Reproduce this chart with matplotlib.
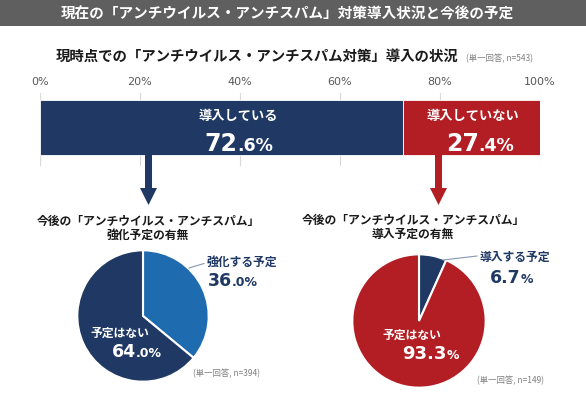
import numpy as np
import matplotlib
matplotlib.use('Agg')
import matplotlib.pyplot as plt
from matplotlib.patches import Rectangle, FancyArrow

plt.rcParams['font.family'] = ['Noto Sans CJK JP', 'DejaVu Sans']

# data
bar_labels = ['導入している', '導入していない']
bar_values = [72.6, 27.4]
bar_ticks = [0, 20, 40, 60, 80, 100]

left_pie_labels = ['強化する予定', '予定はない']
left_pie_values = [36.0, 64.0]
right_pie_labels = ['導入する予定', '予定はない']
right_pie_values = [6.7, 93.3]

NAVY = '#1F3864'
RED = '#B31E24'
BLUE = '#1F6BB0'
GREY = '#5F5F5F'
JP = ['Noto Sans CJK JP', 'DejaVu Sans']

fig = plt.figure(figsize=(5.86, 3.96), dpi=100)
W, H = 586, 396

# stacked bar of current status
axb = fig.add_axes([40 / W, (H - 166) / H, 500 / W, 73 / H])
lefts = np.concatenate([[0], np.cumsum(bar_values)[:-1]])
axb.barh(38.5, bar_values, left=lefts, height=55, color=[NAVY, RED],
         edgecolor='white', linewidth=0.6, zorder=2)
axb.set_xlim(0, 100)
axb.set_ylim(0, 73)
axb.set_xticks(bar_ticks)
axb.set_xticklabels([f'{t}%' for t in bar_ticks], family='DejaVu Sans')
axb.xaxis.tick_top()
axb.tick_params(axis='x', length=0, pad=4, labelsize=8, labelcolor='#595959')
axb.set_yticks([])
axb.grid(axis='x', color='#D9D9D9', linewidth=0.8, zorder=0)
for s in axb.spines.values():
    s.set_visible(False)

# pies
def draw_pie(rect, values, colors):
    ax = fig.add_axes(rect)
    ax.pie(values, colors=colors, startangle=90, counterclock=False, radius=1,
           wedgeprops=dict(edgecolor='white', linewidth=1.5))
    ax.set_xlim(-1.02, 1.02)
    ax.set_ylim(-1.02, 1.02)
    ax.set_aspect('equal')
    return ax

draw_pie([76 / W, (H - 383) / H, 134 / W, 134 / H], left_pie_values, [BLUE, NAVY])
draw_pie([351 / W, (H - 389) / H, 136 / W, 136 / H], right_pie_values, [NAVY, RED])

# overlay for texts and decorations (pixel coordinates)
ov = fig.add_axes([0, 0, 1, 1], zorder=10)
ov.set_xlim(0, W)
ov.set_ylim(H, 0)
ov.axis('off')

ov.add_patch(Rectangle((0, 0), W, 26, color=GREY, lw=0))
ov.text(287, 13.5, '現在の「アンチウイルス・アンチスパム」対策導入状況と今後の予定',
        ha='center', va='center', color='white', fontsize=10.5, weight='bold', family=JP)

ov.text(56, 57, '現時点での「アンチウイルス・アンチスパム対策」導入の状況',
        ha='left', va='center', color='#1A1A1A', fontsize=10.4, weight='bold', family=JP)
ov.text(466, 59, '(単一回答, n=543)', ha='left', va='center', color='#7F7F7F',
        fontsize=6, family=JP)

renderer = fig.canvas.get_renderer()


def split_number(x, y, big, small, big_size, small_size, color, ha='left'):
    kw = dict(va='baseline', ha='left', color=color, weight='bold', family='DejaVu Sans')
    t1 = ov.text(x, y, big, fontsize=big_size, **kw)
    w1 = t1.get_window_extent(renderer).width
    t2 = ov.text(x + w1, y, small, fontsize=small_size, **kw)
    if ha == 'center':
        w2 = t2.get_window_extent(renderer).width
        shift = (w1 + w2) / 2
        t1.set_x(x - shift)
        t2.set_x(x - shift + w1)


# bar labels
ov.text(238, 116, bar_labels[0], ha='center', va='center', color='white',
        fontsize=9.5, weight='bold', family=JP)
split_number(239, 151, f'{bar_values[0]:.1f}'.split('.')[0],
             '.' + f'{bar_values[0]:.1f}'.split('.')[1] + '%', 17, 12.5, 'white', 'center')
ov.text(473, 116, bar_labels[1], ha='center', va='center', color='white',
        fontsize=9.5, weight='bold', family=JP)
split_number(480, 151, f'{bar_values[1]:.1f}'.split('.')[0],
             '.' + f'{bar_values[1]:.1f}'.split('.')[1] + '%', 17, 12.5, 'white', 'center')

# arrows
ov.add_patch(FancyArrow(148.5, 155, 0, 50, width=7, head_width=17, head_length=17,
                        length_includes_head=True, color=NAVY, lw=0))
ov.add_patch(FancyArrow(438.5, 155, 0, 50, width=7, head_width=17, head_length=17,
                        length_includes_head=True, color=RED, lw=0))

# pie titles
ov.text(148, 221, '今後の「アンチウイルス・アンチスパム」', ha='center', va='center',
        fontsize=8.5, weight='bold', color='#1A1A1A', family=JP)
ov.text(148, 235, '強化予定の有無', ha='center', va='center',
        fontsize=8.5, weight='bold', color='#1A1A1A', family=JP)
ov.text(413, 220, '今後の「アンチウイルス・アンチスパム」', ha='center', va='center',
        fontsize=8.5, weight='bold', color='#1A1A1A', family=JP)
ov.text(413, 234, '導入予定の有無', ha='center', va='center',
        fontsize=8.5, weight='bold', color='#1A1A1A', family=JP)

# left pie labels
ov.plot([189, 204], [268, 263.5], color='#8497B0', lw=0.8)
ov.text(207, 262, left_pie_labels[0], ha='left', va='center', color=NAVY,
        fontsize=8.5, weight='bold', family=JP)
split_number(208, 286, f'{left_pie_values[0]:.1f}'.split('.')[0],
             '.' + f'{left_pie_values[0]:.1f}'.split('.')[1] + '%', 12.5, 9, NAVY)
ov.text(90, 333, left_pie_labels[1], ha='left', va='center', color='white',
        fontsize=8.5, weight='bold', family=JP)
split_number(112, 357, f'{left_pie_values[1]:.1f}'.split('.')[0],
             '.' + f'{left_pie_values[1]:.1f}'.split('.')[1] + '%', 12.5, 9, 'white')
ov.text(193, 374, '(単一回答, n=394)', ha='left', va='center', color='#7F7F7F',
        fontsize=6, family=JP)

# right pie labels
ov.plot([443, 477], [260, 256], color='#8497B0', lw=0.8)
ov.text(480, 257, right_pie_labels[0], ha='left', va='center', color=NAVY,
        fontsize=8.5, weight='bold', family=JP)
split_number(490, 283, f'{right_pie_values[0]:.1f}', '%', 12.5, 9, NAVY)
ov.text(382, 335, right_pie_labels[1], ha='left', va='center', color='white',
        fontsize=8.5, weight='bold', family=JP)
split_number(402, 359, f'{right_pie_values[1]:.1f}', '%', 13, 9, 'white')
ov.text(477, 381, '(単一回答, n=149)', ha='left', va='center', color='#7F7F7F',
        fontsize=6, family=JP)

fig.savefig('out.png', dpi=100, facecolor='white')
